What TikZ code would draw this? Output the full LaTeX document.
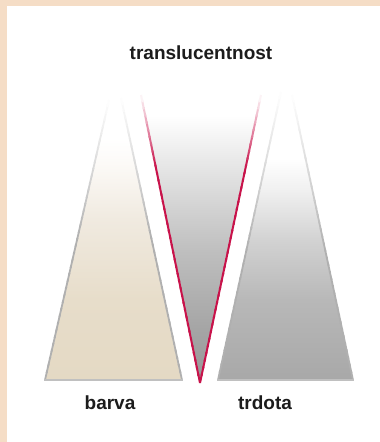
\documentclass[tikz,border=0pt]{standalone}
\usepackage{fontspec}
\setmainfont{Liberation Sans}
\usetikzlibrary{calc}
\definecolor{peach}{HTML}{F5DDC6}
\definecolor{edgegray}{HTML}{B0B0B0}
\definecolor{edgered}{HTML}{C8124A}
\definecolor{txt}{HTML}{1C1C1C}
\definecolor{bgA}{HTML}{E4D9C4}
\definecolor{bgB}{HTML}{E7DDCA}
\definecolor{bgC}{HTML}{F0EAE0}
\definecolor{bgD}{HTML}{FCFAF7}
\definecolor{gA}{HTML}{A8A8A8}
\definecolor{gB}{HTML}{B8B8B8}
\definecolor{gC}{HTML}{D2D2D2}
\definecolor{gD}{HTML}{F0F0F0}
\definecolor{mA}{HTML}{979797}
\definecolor{mB}{HTML}{A6A6A6}
\definecolor{mC}{HTML}{BEBEBE}
\definecolor{mD}{HTML}{DADADA}
\definecolor{mE}{HTML}{F2F2F2}
\pgfdeclareverticalshading{leftfill}{100bp}{color(0bp)=(bgA); color(25bp)=(bgA); color(38bp)=(bgB); color(51bp)=(bgC); color(60bp)=(bgD); color(64bp)=(white); color(100bp)=(white)}
\pgfdeclareverticalshading{rightfill}{100bp}{color(0bp)=(gA); color(25bp)=(gA); color(38bp)=(gB); color(47.7bp)=(gC); color(55.8bp)=(gD); color(61bp)=(white); color(100bp)=(white)}
\pgfdeclareverticalshading{midfill}{100bp}{color(0bp)=(mA); color(25bp)=(mA); color(35bp)=(mB); color(47.8bp)=(mC); color(58.5bp)=(mD); color(67.3bp)=(mE); color(71.8bp)=(white); color(100bp)=(white)}
% fading line: #1 bottom, #2 top, #3 colour, #4 width, #5 fraction of full colour
\newcommand{\fadeline}[5]{%
  \foreach \i in {0,...,39}{%
    \pgfmathsetmacro{\ta}{\i/40}%
    \pgfmathsetmacro{\tb}{(\i+1.3)/40}%
    \pgfmathsetmacro{\tm}{(\i+0.5)/40}%
    \pgfmathsetmacro{\pc}{\tm<#5 ? 100 : 100*(1-\tm)/(1-#5)}%
    \draw[#3!\pc!white, line width=#4] ($#1!\ta!#2$) -- ($#1!min(\tb,1)!#2$);
  }%
}
\tikzset{lbl/.style={font=\fontsize{19}{19}\selectfont\bfseries, text=txt, inner sep=0pt, anchor=base}}
\begin{document}
\begin{tikzpicture}[x=1pt,y=-1pt]
\useasboundingbox (0,0) rectangle (380,442);
\fill[peach] (0,0) rectangle (380,442);
\fill[white] (7,6) rectangle (380,442);
% left triangle (barva)
\shade[shading=leftfill] (45,380) -- (116,70) -- (182,380) -- cycle;
% right triangle (trdota)
\shade[shading=rightfill] (218,380) -- (287,72) -- (353,380) -- cycle;
% middle inverted triangle (translucentnost)
\shade[shading=midfill] (141,97) -- (261,97) -- (200,383) -- cycle;
% edges
\fadeline{(45,380)}{(109,100)}{edgegray}{1.8pt}{0.5}
\fadeline{(182,380)}{(121,98)}{edgegray}{1.8pt}{0.5}
\fadeline{(218,380)}{(281,92)}{edgegray}{1.8pt}{0.45}
\fadeline{(353,380)}{(292,95)}{edgegray}{1.8pt}{0.45}
\fadeline{(200,383)}{(141,95)}{edgered}{2pt}{0.75}
\fadeline{(200,383)}{(261,95)}{edgered}{2pt}{0.75}
\draw[edgegray!80!white, line width=2pt] (44,380) -- (183,380);
\draw[edgegray!80!white, line width=2pt] (217,380) -- (354,380);
% labels
\node[lbl] (t) at (201,59) {translucentnost};
\node[lbl] (b) at (110,409) {barva};
\node[lbl] (d) at (265,409) {trdota};
\end{tikzpicture}
\end{document}
